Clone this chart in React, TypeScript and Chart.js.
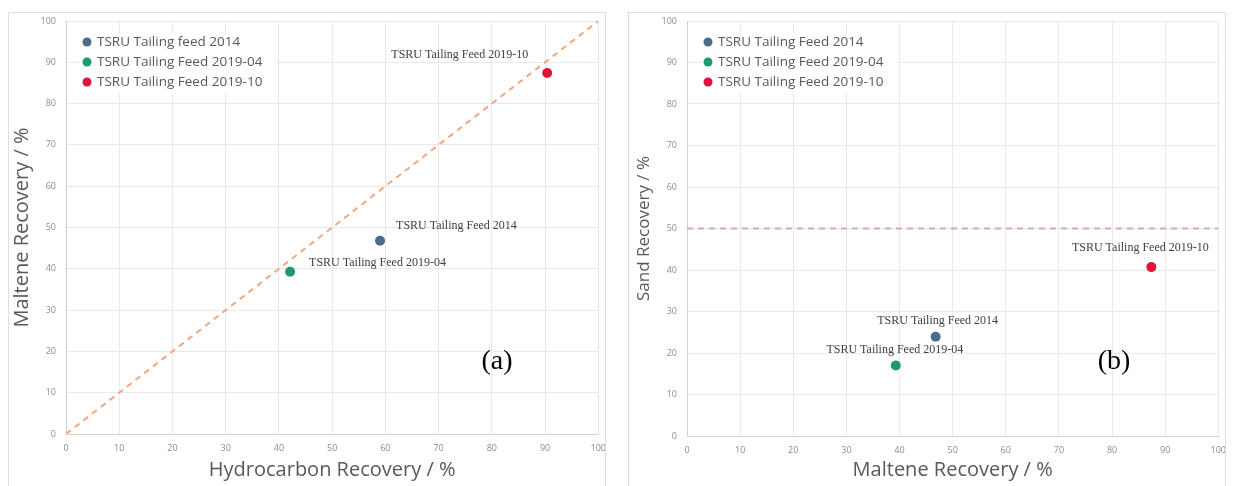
import React, { useEffect, useRef } from "react";
import { Chart, registerables } from "chart.js";

Chart.register(...registerables);

// ---------- data ----------
const legendNamesA = ["TSRU Tailing feed 2014", "TSRU Tailing Feed 2019-04", "TSRU Tailing Feed 2019-10"];
const legendNamesB = ["TSRU Tailing Feed 2014", "TSRU Tailing Feed 2019-04", "TSRU Tailing Feed 2019-10"];
const pointLabels = ["TSRU Tailing Feed 2014", "TSRU Tailing Feed 2019-04", "TSRU Tailing Feed 2019-10"];
const hydrocarbonRecovery = [59.0, 42.1, 90.4];
const malteneRecovery = [46.8, 39.3, 87.4];
const sandRecovery = [23.9, 17.0, 40.7];
const identityLineX = [0, 100];
const identityLineY = [0, 100];
const sandThresholdX = [0, 100];
const sandThresholdY = [50, 50];
const axisMin = 0;
const axisMax = 100;
const axisStep = 10;

// ---------- styles ----------
const seriesColors = ["#4e6b8c", "#1e9a6c", "#e3123b"];
const textGray = "#595959";
const tickGray = "#8c8c8c";
const gridColor = "#e9e9e9";

type LabelStyle = { align: CanvasTextAlign; dx: number; dy: number };
const labelStylesA: LabelStyle[] = [
  { align: "left", dx: 16, dy: -15 },
  { align: "left", dx: 19, dy: -9 },
  { align: "right", dx: -19, dy: -18 },
];
const labelStylesB: LabelStyle[] = [
  { align: "center", dx: 2, dy: -16 },
  { align: "center", dx: -1, dy: -16 },
  { align: "center", dx: -11, dy: -19 },
];

type PanelCfg = {
  xValues: number[];
  yValues: number[];
  refX: number[];
  refY: number[];
  refColor: string;
  legendNames: string[];
  labelStyles: LabelStyle[];
  xTitle: string;
  yTitle: string;
  yTitleSize: number;
  yTitlePad: number;
  panelTag: string;
  tagPos: { x: number; y: number };
  yAxisWidth: number;
  xAxisHeight: number;
};

function makeChart(canvas: HTMLCanvasElement, cfg: PanelCfg) {
  const scatterSets = cfg.legendNames.map((name, i) => ({
    type: "scatter" as const,
    label: name,
    data: [{ x: cfg.xValues[i], y: cfg.yValues[i] }],
    backgroundColor: seriesColors[i],
    borderColor: seriesColors[i],
    pointRadius: 5,
    pointBorderWidth: 0,
    order: 1,
  }));
  const refSet = {
    type: "scatter" as const,
    label: "ref",
    data: cfg.refX.map((x, i) => ({ x, y: cfg.refY[i] })),
    showLine: true,
    borderColor: cfg.refColor,
    borderWidth: 2,
    borderDash: [6, 5],
    pointRadius: 0,
    order: 5,
  };

  const overlayPlugin = {
    id: "overlay",
    beforeDatasetsDraw(chart: any) {
      const ctx = chart.ctx;
      const area = chart.chartArea;
      ctx.save();
      const lx = area.left + 14;
      const ly = area.top + 12;
      ctx.fillStyle = "#ffffff";
      ctx.fillRect(lx, ly, 196, 60);
      ctx.font = '13.5px "Open Sans"';
      ctx.textBaseline = "middle";
      ctx.textAlign = "left";
      cfg.legendNames.forEach((name, i) => {
        const cy = ly + 9 + i * 20;
        ctx.fillStyle = seriesColors[i];
        ctx.beginPath();
        ctx.arc(lx + 7, cy, 4.5, 0, Math.PI * 2);
        ctx.fill();
        ctx.fillStyle = textGray;
        ctx.fillText(name, lx + 17, cy);
      });
      ctx.restore();
    },
    afterDatasetsDraw(chart: any) {
      const ctx = chart.ctx;
      ctx.save();
      ctx.font = '12px "Liberation Serif"';
      ctx.textBaseline = "middle";
      ctx.fillStyle = "#404040";
      cfg.legendNames.forEach((_, i) => {
        const meta = chart.getDatasetMeta(i);
        const pt = meta.data[0];
        const st = cfg.labelStyles[i];
        ctx.textAlign = st.align;
        ctx.fillText(pointLabels[i], pt.x + st.dx, pt.y + st.dy);
      });
      ctx.font = '28px "Liberation Serif"';
      ctx.fillStyle = "#000000";
      ctx.textAlign = "center";
      ctx.fillText(cfg.panelTag, cfg.tagPos.x, cfg.tagPos.y);
      ctx.restore();
    },
  };

  return new Chart(canvas, {
    type: "scatter",
    data: { datasets: [...scatterSets, refSet] as any },
    options: {
      animation: false,
      responsive: false,
      maintainAspectRatio: false,
      layout: { padding: { top: 21, right: 15, left: 0, bottom: 0 } },
      plugins: { legend: { display: false }, tooltip: { enabled: false } },
      scales: {
        x: {
          type: "linear",
          min: axisMin,
          max: axisMax,
          afterFit: (s: any) => {
            s.height = cfg.xAxisHeight;
          },
          ticks: { stepSize: axisStep, color: tickGray, font: { size: 9, family: "Open Sans" }, padding: 9 },
          grid: { color: gridColor, drawTicks: false },
          border: { color: "#d0d0d0" },
          title: {
            display: true,
            text: cfg.xTitle,
            color: textGray,
            font: { size: 20, family: "Open Sans" },
            padding: { top: 0, bottom: 4 },
          },
        },
        y: {
          type: "linear",
          min: axisMin,
          max: axisMax,
          afterFit: (s: any) => {
            s.width = cfg.yAxisWidth;
          },
          ticks: { stepSize: axisStep, color: tickGray, font: { size: 9, family: "Open Sans" }, padding: 10 },
          grid: { color: gridColor, drawTicks: false },
          border: { color: "#d0d0d0" },
          title: {
            display: true,
            text: cfg.yTitle,
            color: textGray,
            font: { size: cfg.yTitleSize, family: "Open Sans" },
            padding: { top: cfg.yTitlePad, bottom: 0 },
          },
        },
      },
    },
    plugins: [overlayPlugin],
  } as any);
}

function Panel({ cfg, left }: { cfg: PanelCfg; left: number }) {
  const ref = useRef<HTMLCanvasElement | null>(null);
  useEffect(() => {
    if (!ref.current) return;
    const chart = makeChart(ref.current, cfg);
    return () => chart.destroy();
  }, []);
  return (
    <div style={{ position: "absolute", left, top: 0, width: 615, height: 486 }}>
      <canvas ref={ref} width={615} height={486} style={{ display: "block", width: 615, height: 486 }} />
      <div
        style={{
          position: "absolute",
          left: 8,
          top: 12,
          width: 596,
          height: 480,
          border: "1px solid #dedede",
          pointerEvents: "none",
        }}
      />
    </div>
  );
}

const panelA: PanelCfg = {
  xValues: hydrocarbonRecovery,
  yValues: malteneRecovery,
  refX: identityLineX,
  refY: identityLineY,
  refColor: "#f0a884",
  legendNames: legendNamesA,
  labelStyles: labelStylesA,
  xTitle: "Hydrocarbon Recovery / %",
  yTitle: "Maltene Recovery / %",
  yTitleSize: 20,
  yTitlePad: 10,
  panelTag: "(a)",
  tagPos: { x: 497, y: 362 },
  yAxisWidth: 66,
  xAxisHeight: 52,
};

const panelB: PanelCfg = {
  xValues: malteneRecovery,
  yValues: sandRecovery,
  refX: sandThresholdX,
  refY: sandThresholdY,
  refColor: "#d9a9a3",
  legendNames: legendNamesB,
  labelStyles: labelStylesB,
  xTitle: "Maltene Recovery / %",
  yTitle: "Sand Recovery / %",
  yTitleSize: 17,
  yTitlePad: 14,
  panelTag: "(b)",
  tagPos: { x: 494, y: 362 },
  yAxisWidth: 67,
  xAxisHeight: 50,
};

export default function App() {
  return (
    <div style={{ position: "fixed", left: 0, top: 0, width: 1235, height: 486, background: "#ffffff", overflow: "hidden" }}>
      <Panel cfg={panelA} left={0} />
      <Panel cfg={panelB} left={620} />
    </div>
  );
}
